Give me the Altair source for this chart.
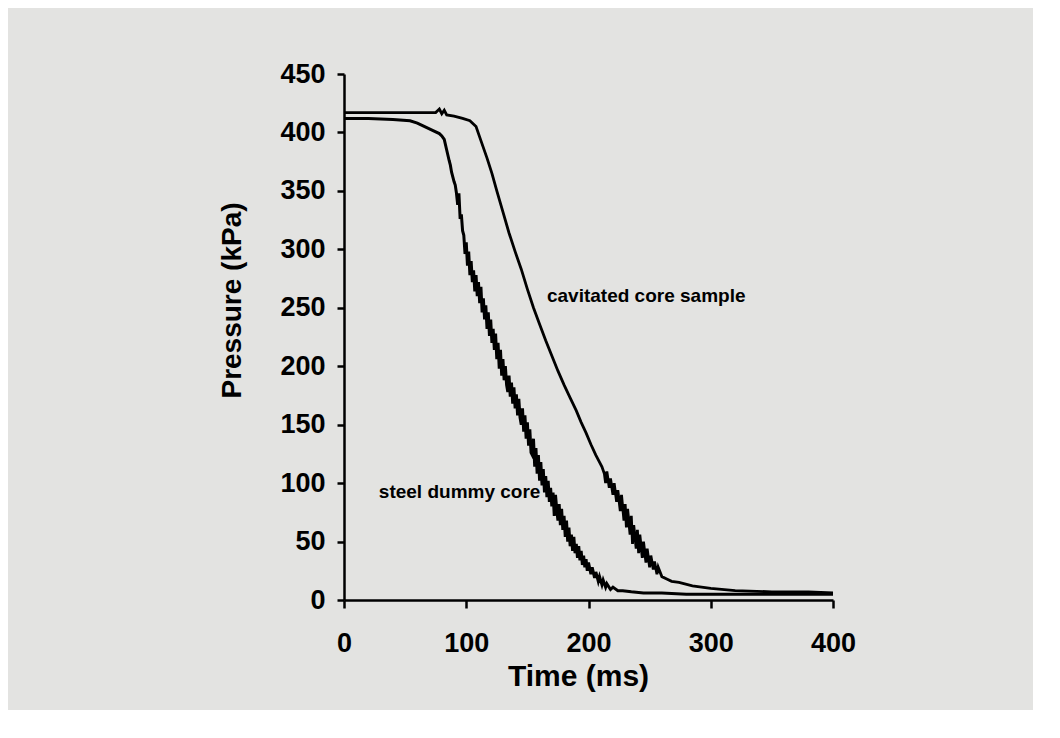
import altair as alt
import pandas as pd

# cavitated core sample (time ms, pressure kPa)
cav_t = [0, 30, 60, 75, 78, 80, 82, 84, 90, 97, 103, 108, 112, 117, 121, 125, 130, 135, 140, 145,
         150, 155, 160, 165, 170, 175, 180, 185, 190, 194, 198, 202, 206, 209,
         211, 213, 214, 215, 217, 218, 220, 221, 223, 224, 226, 227, 229, 230, 231, 232,
         234, 235, 236, 237, 239, 240, 241, 242, 244, 245, 247, 248, 250, 251, 253, 254, 256, 257,
         260, 264, 268, 274, 285, 300, 320, 350, 380, 400]
cav_p = [417, 417, 417, 417, 420, 416, 419, 415, 414, 412, 410, 405, 393, 378, 365, 350, 332, 314, 298, 283,
         266, 250, 236, 222, 209, 196, 184, 173, 162, 152, 143, 133, 124, 118,
         114, 108, 100, 110, 96, 104, 90, 100, 84, 94, 76, 90, 68, 82, 62, 78,
         56, 72, 48, 64, 44, 60, 40, 56, 36, 50, 32, 44, 28, 38, 26, 33, 22, 28,
         20, 18, 16, 15, 12, 10, 8, 7, 7, 6]

# steel dummy core (time ms, pressure kPa)
steel_t = [0, 20, 40, 54, 60, 66, 72, 78, 80, 82, 84, 86, 87, 88, 89, 90, 91, 92,
           93, 94, 95, 96, 97, 98, 99, 100,
           101, 102, 103, 104, 105, 106, 107, 108, 109, 110,
           111, 112, 113, 114, 115, 116, 117, 118, 119, 120,
           121, 122, 123, 124, 125, 126, 127, 128, 129, 130,
           131, 132, 133, 134, 135, 136, 137, 138, 139, 140,
           141, 142, 143, 144, 145, 146, 147, 148, 149, 150,
           151, 152, 153, 154, 155, 156, 157, 158, 159, 160,
           161, 162, 163, 164, 165, 166, 167, 168, 169, 170,
           171, 172, 173, 174, 175, 176, 177, 178, 179, 180,
           181, 182, 183, 184, 185, 186, 187, 188, 189, 190,
           191, 192, 193, 194, 195, 196, 197, 198, 199, 200,
           202, 203, 205, 206, 208, 209, 211, 212, 214, 215, 218, 220, 224, 228,
           235, 245, 260, 280, 320, 360, 400]
steel_p = [412, 412, 411, 410, 408, 405, 402, 399, 397, 394, 385, 376, 372, 366, 362, 358, 355, 348,
           338, 348, 326, 330, 316, 312, 296, 306,
           286, 298, 278, 290, 272, 282, 264, 278, 260, 272,
           254, 268, 246, 258, 240, 252, 232, 246, 226, 240,
           220, 232, 214, 228, 206, 220, 198, 214, 192, 206,
           188, 200, 184, 178, 192, 174, 186, 168, 182, 164,
           176, 158, 172, 156, 150, 164, 144, 158, 138, 152,
           132, 146, 126, 124, 138, 114, 130, 108, 124, 102,
           118, 98, 112, 92, 106, 88, 102, 84, 96, 80,
           92, 72, 90, 78, 68, 82, 64, 78, 60, 72,
           54, 68, 50, 62, 46, 56, 42, 54, 40, 48,
           36, 46, 34, 42, 30, 38, 28, 35, 25, 32,
           22, 28, 19, 24, 16, 20, 13, 17, 11, 14, 9, 11, 8, 8,
           7, 6, 6, 5, 5, 5, 5]

labels = ["cavitated core sample", "steel dummy core"]
label_t = [166, 28.5]
label_p = [260, 92]

x_ticks = [0, 100, 200, 300, 400]
y_ticks = [0, 50, 100, 150, 200, 250, 300, 350, 400, 450]

cav = pd.DataFrame({"t": cav_t, "p": cav_p})
steel = pd.DataFrame({"t": steel_t, "p": steel_p})
lab = pd.DataFrame({"t": label_t, "p": label_p, "text": labels})

FONT = "Liberation Sans"

x_enc = alt.X("t:Q", scale=alt.Scale(domain=[0, 400], nice=False),
              axis=alt.Axis(title="Time (ms)", values=x_ticks, grid=False,
                            labelFontSize=27, labelFont=FONT, labelFontWeight="bold",
                            labelColor="black", labelPadding=22, tickSize=8, tickWidth=2.5,
                            tickColor="black", domainColor="black", domainWidth=2.5,
                            titleFontSize=30, titleFont=FONT, titleFontWeight="bold",
                            titleColor="black", titleX=234, titleY=76, titleBaseline="middle",
                            labelFlush=False))
y_enc = alt.Y("p:Q", scale=alt.Scale(domain=[0, 450], nice=False),
              axis=alt.Axis(title="Pressure (kPa)", values=y_ticks, grid=False,
                            labelFontSize=27, labelFont=FONT, labelFontWeight="bold",
                            labelColor="black", labelPadding=12, tickSize=7, tickWidth=2.5,
                            tickColor="black", domainColor="black", domainWidth=2.5,
                            titleFontSize=28, titleFont=FONT, titleFontWeight="bold",
                            titleColor="black", titleX=-112, titleY=226, titleBaseline="middle",
                            titleAlign="center", titleAngle=-90, labelFlush=False))

line_cav = alt.Chart(cav).mark_line(color="black", strokeWidth=2.8).encode(x=x_enc, y=y_enc)
line_steel = alt.Chart(steel).mark_line(color="black", strokeWidth=3).encode(x="t:Q", y="p:Q")
text = alt.Chart(lab).mark_text(align="left", baseline="middle", font=FONT, fontWeight="bold",
                                fontSize=19, color="black").encode(x="t:Q", y="p:Q", text="text:N")

chart = (line_cav + line_steel + text).properties(
    width=489, height=526,
    autosize=alt.AutoSizeParams(type="none"),
    padding={"left": 336, "top": 66, "right": 200, "bottom": 110},
    background="#e3e3e1",
).configure_view(stroke=None)

chart.save("out.html", embed_options={"renderer": "svg", "actions": False})
